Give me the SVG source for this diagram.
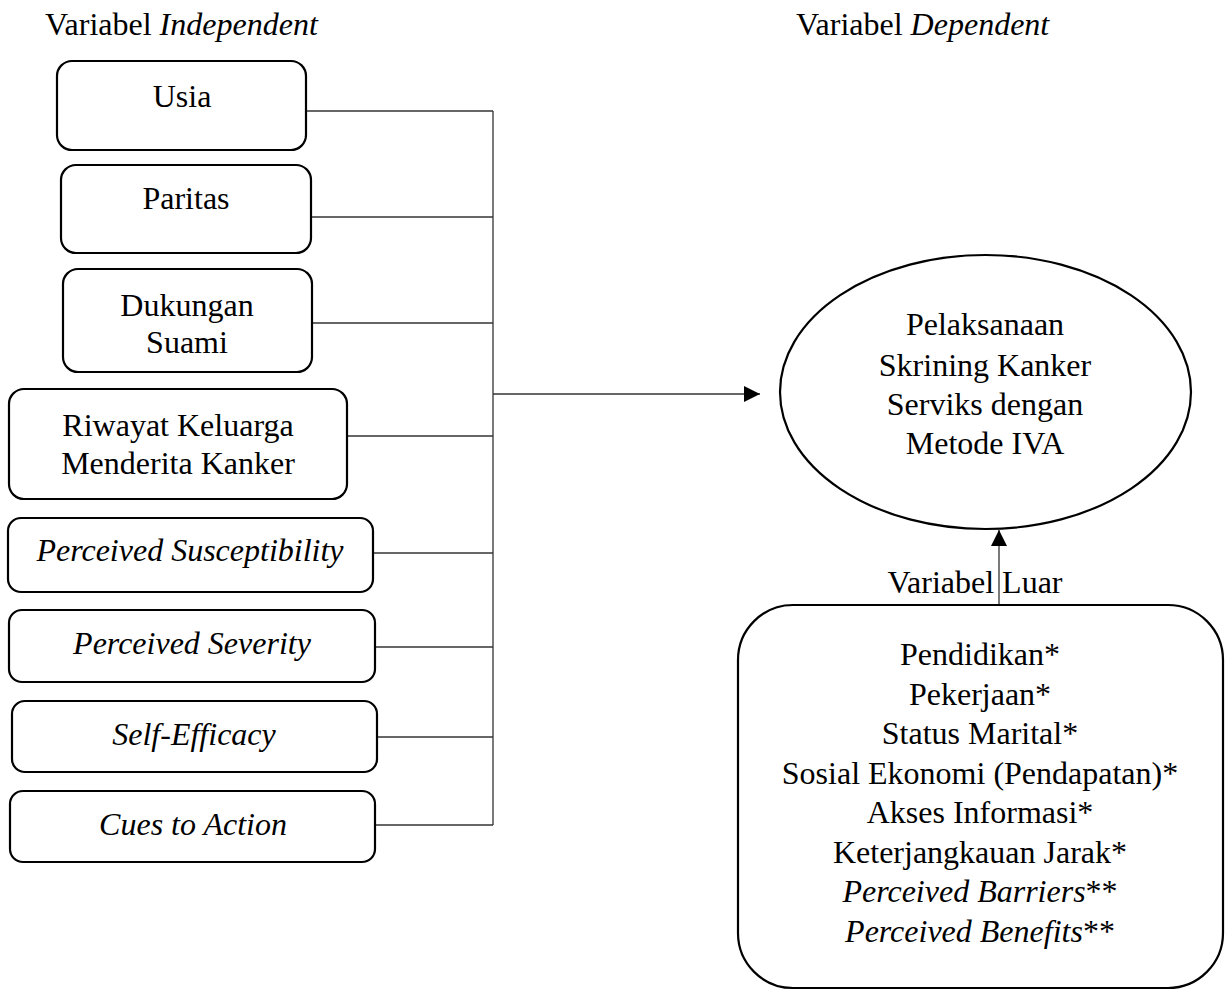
<svg xmlns="http://www.w3.org/2000/svg" width="1230" height="990" viewBox="0 0 1230 990">
<style>
text{font-family:"Liberation Serif","Times New Roman",serif;font-size:32px;fill:#000;text-anchor:middle}
.i{font-style:italic}
.box{fill:#fff;stroke:#000;stroke-width:2.2}
.ln{fill:none;stroke:#333;stroke-width:1.3}
</style>
<defs>
<marker id="ah" markerWidth="16" markerHeight="16" refX="16" refY="8" orient="auto" markerUnits="userSpaceOnUse">
<path d="M0,0 L16,8 L0,16 Z" fill="#000"/>
</marker>
</defs>
<rect width="1230" height="990" fill="#fff"/>
<g id="headers">
<text x="45" y="35" style="text-anchor:start">Variabel <tspan class="i">Independent</tspan></text>
<text x="796" y="35" style="text-anchor:start">Variabel <tspan class="i">Dependent</tspan></text>
</g>
<g id="connectors">
<line class="ln" x1="306" y1="111" x2="493" y2="111"/>
<line class="ln" x1="311" y1="217" x2="493" y2="217"/>
<line class="ln" x1="312" y1="323" x2="493" y2="323"/>
<line class="ln" x1="347" y1="436" x2="493" y2="436"/>
<line class="ln" x1="373" y1="553" x2="493" y2="553"/>
<line class="ln" x1="375" y1="647" x2="493" y2="647"/>
<line class="ln" x1="377" y1="737" x2="493" y2="737"/>
<line class="ln" x1="375" y1="825" x2="493" y2="825"/>
<line class="ln" x1="493" y1="111" x2="493" y2="825"/>
<line class="ln" x1="493" y1="394" x2="760" y2="394" marker-end="url(#ah)"/>
<line class="ln" x1="999" y1="605" x2="999" y2="530" marker-end="url(#ah)"/>
</g>
<g id="usia"><rect class="box" x="57" y="61" width="249" height="89" rx="15"/><text x="182" y="107">Usia</text></g>
<g id="paritas"><rect class="box" x="61" y="165" width="250" height="88" rx="15"/><text x="186" y="209">Paritas</text></g>
<g id="dukungan"><rect class="box" x="63" y="269" width="249" height="103" rx="15"/><text x="187" y="316">Dukungan</text><text x="187" y="353">Suami</text></g>
<g id="riwayat"><rect class="box" x="9" y="389" width="338" height="110" rx="15"/><text x="178" y="436">Riwayat Keluarga</text><text x="178" y="474">Menderita Kanker</text></g>
<g id="susceptibility"><rect class="box" x="8" y="518" width="365" height="74" rx="13"/><text class="i" x="190" y="561">Perceived Susceptibility</text></g>
<g id="severity"><rect class="box" x="9" y="610" width="366" height="72" rx="13"/><text class="i" x="192" y="654">Perceived Severity</text></g>
<g id="efficacy"><rect class="box" x="12" y="701" width="365" height="71" rx="13"/><text class="i" x="194" y="745">Self-Efficacy</text></g>
<g id="cues"><rect class="box" x="10" y="791" width="365" height="71" rx="13"/><text class="i" x="193" y="835">Cues to Action</text></g>
<g id="pelaksanaan">
<ellipse class="box" cx="985.5" cy="392" rx="205.5" ry="137"/>
<text x="985" y="335">Pelaksanaan</text>
<text x="985" y="376">Skrining Kanker</text>
<text x="985" y="415">Serviks dengan</text>
<text x="985" y="454">Metode IVA</text>
</g>
<g id="luar-label"><text x="975" y="593">Variabel Luar</text></g>
<g id="luar">
<rect class="box" x="738" y="605" width="485" height="383" rx="55"/>
<text x="980" y="665">Pendidikan*</text>
<text x="980" y="704.5">Pekerjaan*</text>
<text x="980" y="744">Status Marital*</text>
<text x="980" y="783.5">Sosial Ekonomi (Pendapatan)*</text>
<text x="980" y="823">Akses Informasi*</text>
<text x="980" y="862.5">Keterjangkauan Jarak*</text>
<text x="980" y="902"><tspan class="i">Perceived Barriers</tspan>**</text>
<text x="980" y="941.5"><tspan class="i">Perceived Benefits</tspan>**</text>
</g>
</svg>
